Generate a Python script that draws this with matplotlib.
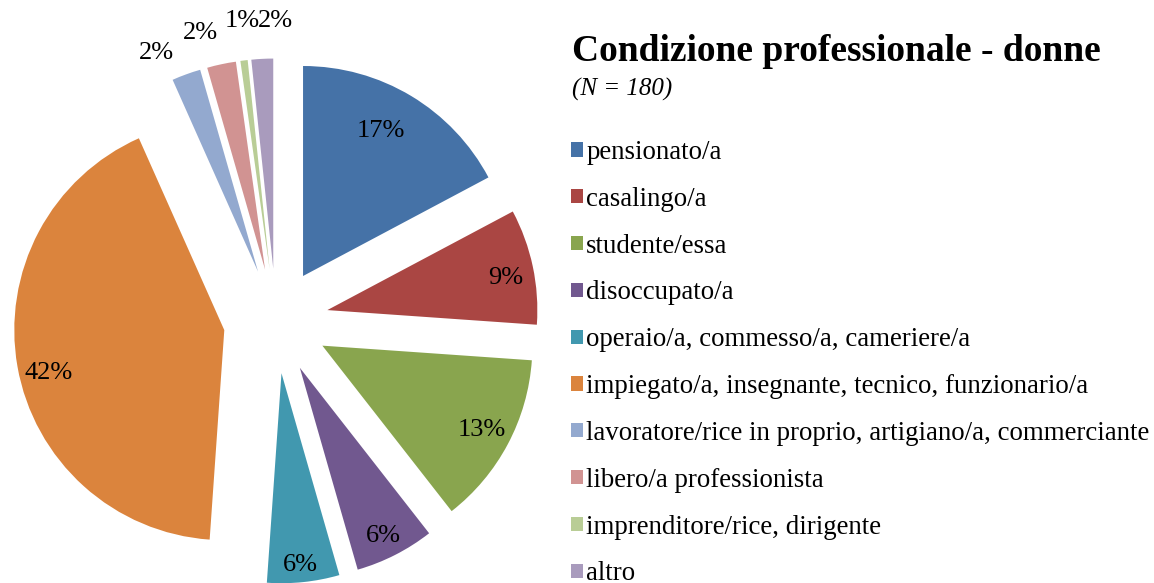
import matplotlib.pyplot as plt
import math

# Condizione professionale - donne (N = 180)
categories = [
    "pensionato/a",
    "casalingo/a",
    "studente/essa",
    "disoccupato/a",
    "operaio/a, commesso/a, cameriere/a",
    "impiegato/a, insegnante, tecnico, funzionario/a",
    "lavoratore/rice in proprio, artigiano/a, commerciante",
    "libero/a professionista",
    "imprenditore/rice, dirigente",
    "altro",
]
counts = [31, 16, 24, 11, 10, 76, 4, 4, 1, 3]
colors = ["#4572A7", "#AA4643", "#89A54E", "#71588F", "#4198AF",
          "#DB843D", "#93A9CF", "#D19392", "#B9CD96", "#A99BBD"]

title = "Condizione professionale - donne"
subtitle = "(N = 180)"

serif = "Liberation Serif"

fig = plt.figure(figsize=(11.54, 5.83), dpi=100)
ax = fig.add_axes([0, 0, 0.5, 1])

wedges, texts, autotexts = ax.pie(
    counts,
    explode=[0.25] * len(counts),
    colors=colors,
    startangle=90,
    counterclock=False,
    autopct=lambda p: "%.0f%%" % p,
    pctdistance=0.86,
    wedgeprops=dict(linewidth=0),
    textprops=dict(fontsize=19, family=serif),
)

# pie radius = 210 px, centre at (276, 321) px from top-left
r_px = 210.0
ax.set_xlim(-276 / r_px, (577 - 276) / r_px)
ax.set_ylim(-(583 - 321) / r_px, 321 / r_px)

# label tweaks in pixels (right, down), like Excel's best-fit placement
nudges = {0: (-15, 10), 1: (2, 5), 3: (2, 7), 4: (0, 12), 5: (2, 12),
          6: (-18, 12), 7: (-14, 4), 8: (3, -4), 9: (15, -2)}
outside = [6, 7, 8, 9]
for i, w in enumerate(wedges):
    x, y = autotexts[i].get_position()
    if i in outside:
        ang = math.radians((w.theta1 + w.theta2) / 2)
        cx, cy = w.center
        x, y = cx + 1.17 * math.cos(ang), cy + 1.17 * math.sin(ang)
    dx, dy = nudges.get(i, (0, 0))
    autotexts[i].set_position((x + dx / r_px, y - dy / r_px))

fig.text(572 / 1154, 1 - 61 / 583, title, fontsize=27, fontweight="bold",
         family=serif, va="baseline", ha="left")
fig.text(572 / 1154, 1 - 96 / 583, subtitle, fontsize=18, style="italic",
         family=serif, va="baseline", ha="left")

fig.legend(wedges, categories, loc="upper left",
           bbox_to_anchor=(571 / 1154, 1 - 140 / 583),
           frameon=False, prop=dict(family=serif, size=19.4),
           handlelength=0.44, handleheight=0.44, handletextpad=0.12,
           labelspacing=0.81, borderpad=0, borderaxespad=0)

fig.savefig("out.png", dpi=100)
